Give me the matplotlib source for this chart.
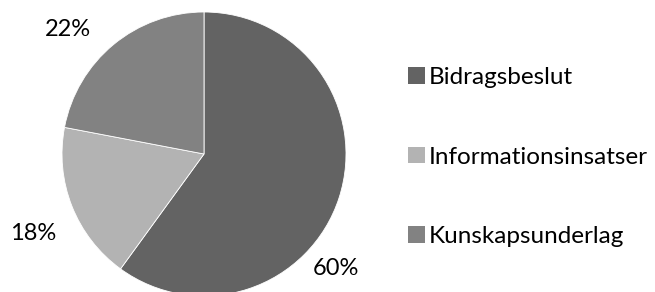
import numpy as np
import matplotlib.pyplot as plt

plt.rcParams['font.family'] = ['Lato', 'DejaVu Sans']

categories = ["Bidragsbeslut", "Informationsinsatser", "Kunskapsunderlag"]
shares = [60, 18, 22]
colors = ["#636363", "#b3b3b3", "#828282"]

W, H, DPI = 655, 292, 100
fig = plt.figure(figsize=(W / DPI, H / DPI), dpi=DPI)

# pie centre and radius in pixels
cx, cy, r = 204, 292 - 154, 142
ax = fig.add_axes([(cx - r) / W, (cy - r) / H, 2 * r / W, 2 * r / H])

wedges, texts, autotexts = ax.pie(
    shares, colors=colors, startangle=90, counterclock=False,
    autopct="%d%%", pctdistance=1.3, radius=1.0,
    wedgeprops=dict(edgecolor="white", linewidth=0.6),
    textprops=dict(fontsize=17, color="black"),
)
ax.set_xlim(-1, 1)
ax.set_ylim(-1, 1)
ax.set_aspect("equal")

# Excel "best fit" label placement (angle in degrees, distance in radii)
label_place = [(-40.8, 1.23), (205.1, 1.327), (137.5, 1.30)]
for t, (ang, d) in zip(autotexts, label_place):
    a = np.deg2rad(ang)
    t.set_position((d * np.cos(a), d * np.sin(a)))
    t.set_clip_on(False)

handles = [plt.Rectangle((0, 0), 1, 1, facecolor=c) for c in colors]
fig.legend(handles, categories, loc="center left",
           bbox_to_anchor=(396 / W, 0.462), frameon=False, fontsize=17.5,
           handlelength=0.68, handleheight=0.68, handletextpad=0.15,
           labelspacing=2.4, borderpad=0)

fig.savefig("out.png", dpi=DPI)
